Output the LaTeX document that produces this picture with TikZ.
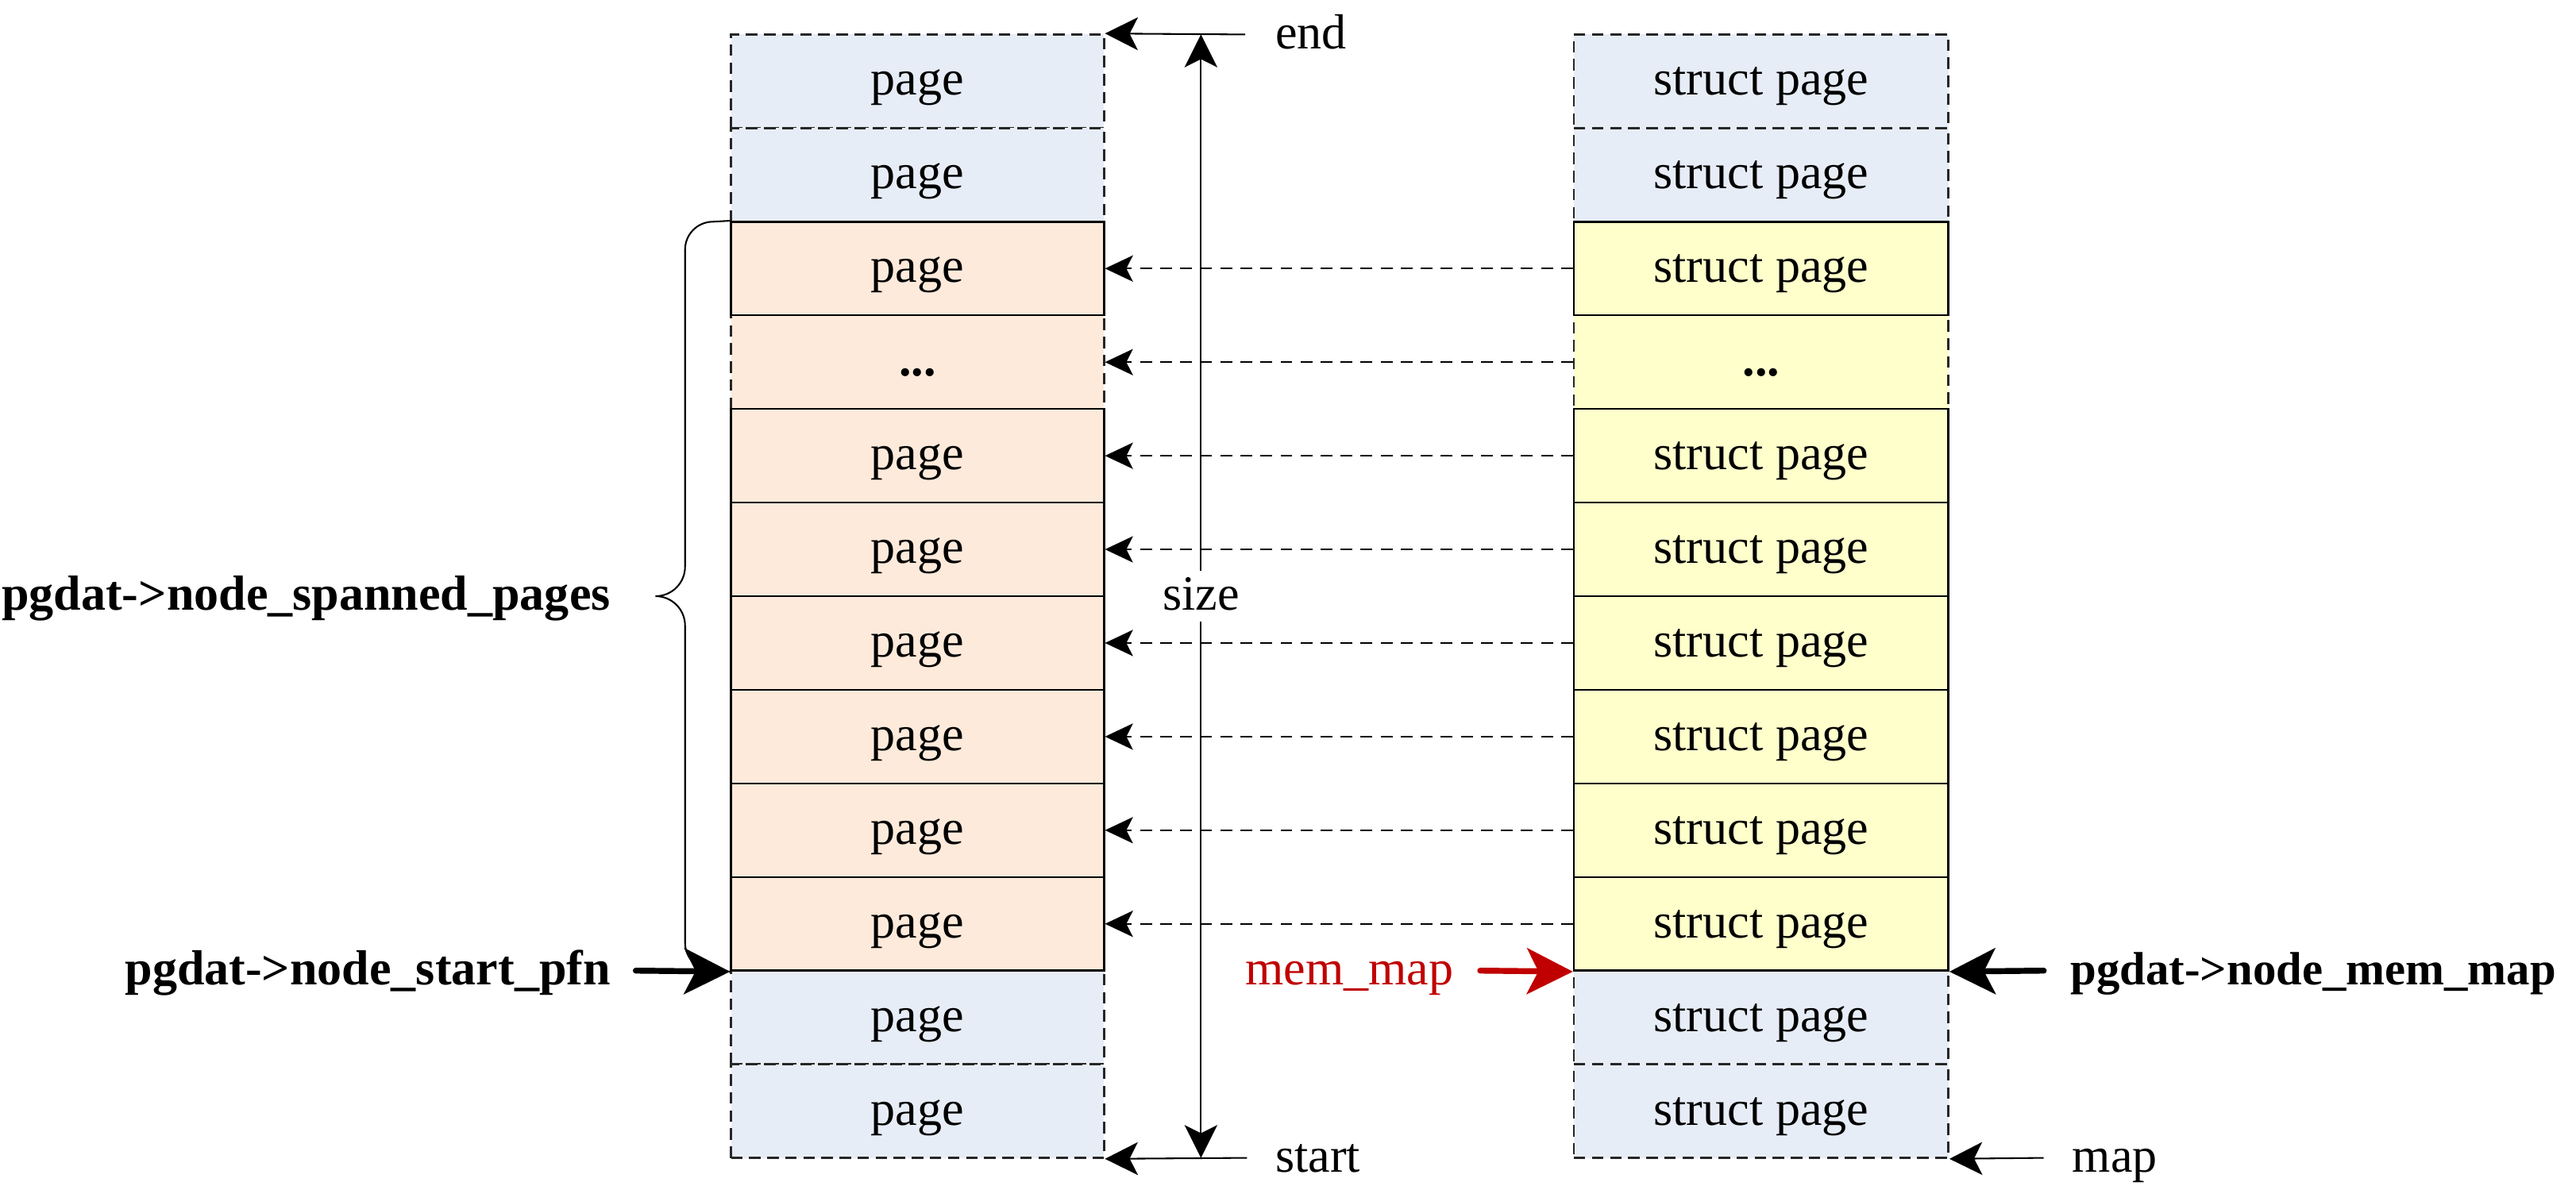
\documentclass[tikz,border=0pt]{standalone}
\usepackage{fontspec}
\setmainfont{Liberation Serif}
\usetikzlibrary{arrows.meta}
\definecolor{bluefill}{HTML}{E7EDF7}
\definecolor{orangefill}{HTML}{FDEADB}
\definecolor{yellowfill}{HTML}{FFFFCC}
\definecolor{memred}{HTML}{C00000}
\begin{document}
\begin{tikzpicture}[x=0.5pt,y=-0.5pt,
  txt/.style={inner sep=0pt,font=\fontsize{15}{18}\selectfont,text height=11pt,text depth=2.5pt},
  btxt/.style={txt,font=\fontsize{15}{18}\selectfont\bfseries},
  cell/.style={txt,minimum height=28.5pt,line width=0.6pt},
  lcell/.style={cell,minimum width=113.5pt},
  rcell/.style={cell,minimum width=114pt},
  solidb/.style={draw=black},
  dashb/.style={draw=black!85,dash pattern=on 3.5pt off 2pt},
  thinarrow/.style={line width=0.5pt,-{Stealth[length=10pt,width=10pt,inset=2.5pt]}},
  dblarrow/.style={line width=0.5pt,{Stealth[length=10pt,width=10pt,inset=2.5pt]}-{Stealth[length=10pt,width=10pt,inset=2.5pt]}},
  dasharrow/.style={line width=0.5pt,dash pattern=on 3.6pt off 2.5pt,-{Stealth[length=8.5pt,width=8pt,inset=2pt]}},
  bigarrow/.style={line width=1.8pt,line cap=round,-{Stealth[length=14pt,width=14pt,inset=3.5pt]}},
]
\useasboundingbox (0,0) rectangle (1568,722);

% dashed cells first
\foreach \i in {1,2,11,12} {
  \node[lcell,dashb,fill=bluefill] (L\i) at (558.5,{49.5+57*(\i-1)}) {page};
  \node[rcell,dashb,fill=bluefill] (R\i) at (1072,{49.5+57*(\i-1)}) {struct page};
}
\node[lcell,dashb,fill=orangefill] (L4) at (558.5,{49.5+57*3}) {\bfseries ...};
\node[rcell,dashb,fill=yellowfill] (R4) at (1072,{49.5+57*3}) {\bfseries ...};
% solid cells
\foreach \i in {3,5,6,7,8,9,10} {
  \node[lcell,solidb,fill=orangefill] (L\i) at (558.5,{49.5+57*(\i-1)}) {page};
  \node[rcell,solidb,fill=yellowfill] (R\i) at (1072,{49.5+57*(\i-1)}) {struct page};
}

% dashed mapping arrows
\foreach \i in {3,...,10} {
  \draw[dasharrow] (R\i.west) -- (L\i.east);
}

% size arrow
\coordinate (sizetop) at (731,21);
\coordinate (sizebot) at (731,705);
\draw[dblarrow] (sizebot) -- (sizetop);
\node[txt,fill=white,inner xsep=2pt,inner ysep=1pt] (size) at (731,363) {size};

% end / start / map
\node[txt,anchor=west] (endl) at (776,21) {end};
\coordinate (endc) at (758,21);
\draw[thinarrow] (endc) -- (L1.north east);
\node[txt,anchor=west] (startl) at (776,705) {start};
\coordinate (startc) at (759,705);
\draw[thinarrow] (startc) -- (L12.south east);
\node[txt,anchor=west] (mapl) at (1261,705) {map};
\coordinate (mapc) at (1244,705);
\draw[thinarrow] (mapc) -- (R12.south east);

% brace
\draw[line width=0.5pt] (L3.north west) -- (434,135) to[out=180,in=90] (417,152) -- (417,345)
  to[out=-90,in=0] (399,363) to[out=0,in=90] (417,381) -- (417,574)
  to[out=-90,in=180] (434,591) -- (L10.south west);
\node[btxt,anchor=east] (spanned) at (372,363) {pgdat->node\_spanned\_pages};

% thick arrows
\node[btxt,anchor=east] (startpfn) at (372,591) {pgdat->node\_start\_pfn};
\coordinate (startpfnc) at (387,591);
\draw[bigarrow] (startpfnc) -- (L10.south west);

\node[txt,anchor=east,text=memred] (memmap) at (885,591) {mem\_map};
\coordinate (memmapc) at (901,591);
\draw[bigarrow,draw=memred,fill=memred] (memmapc) -- (R10.south west);

\node[btxt,anchor=west,font=\fontsize{14.2}{17}\selectfont\bfseries] (nodememmap) at (1260,591) {pgdat->node\_mem\_map};
\coordinate (nodememmapc) at (1244,591);
\draw[bigarrow] (nodememmapc) -- (R10.south east);
\end{tikzpicture}
\end{document}
